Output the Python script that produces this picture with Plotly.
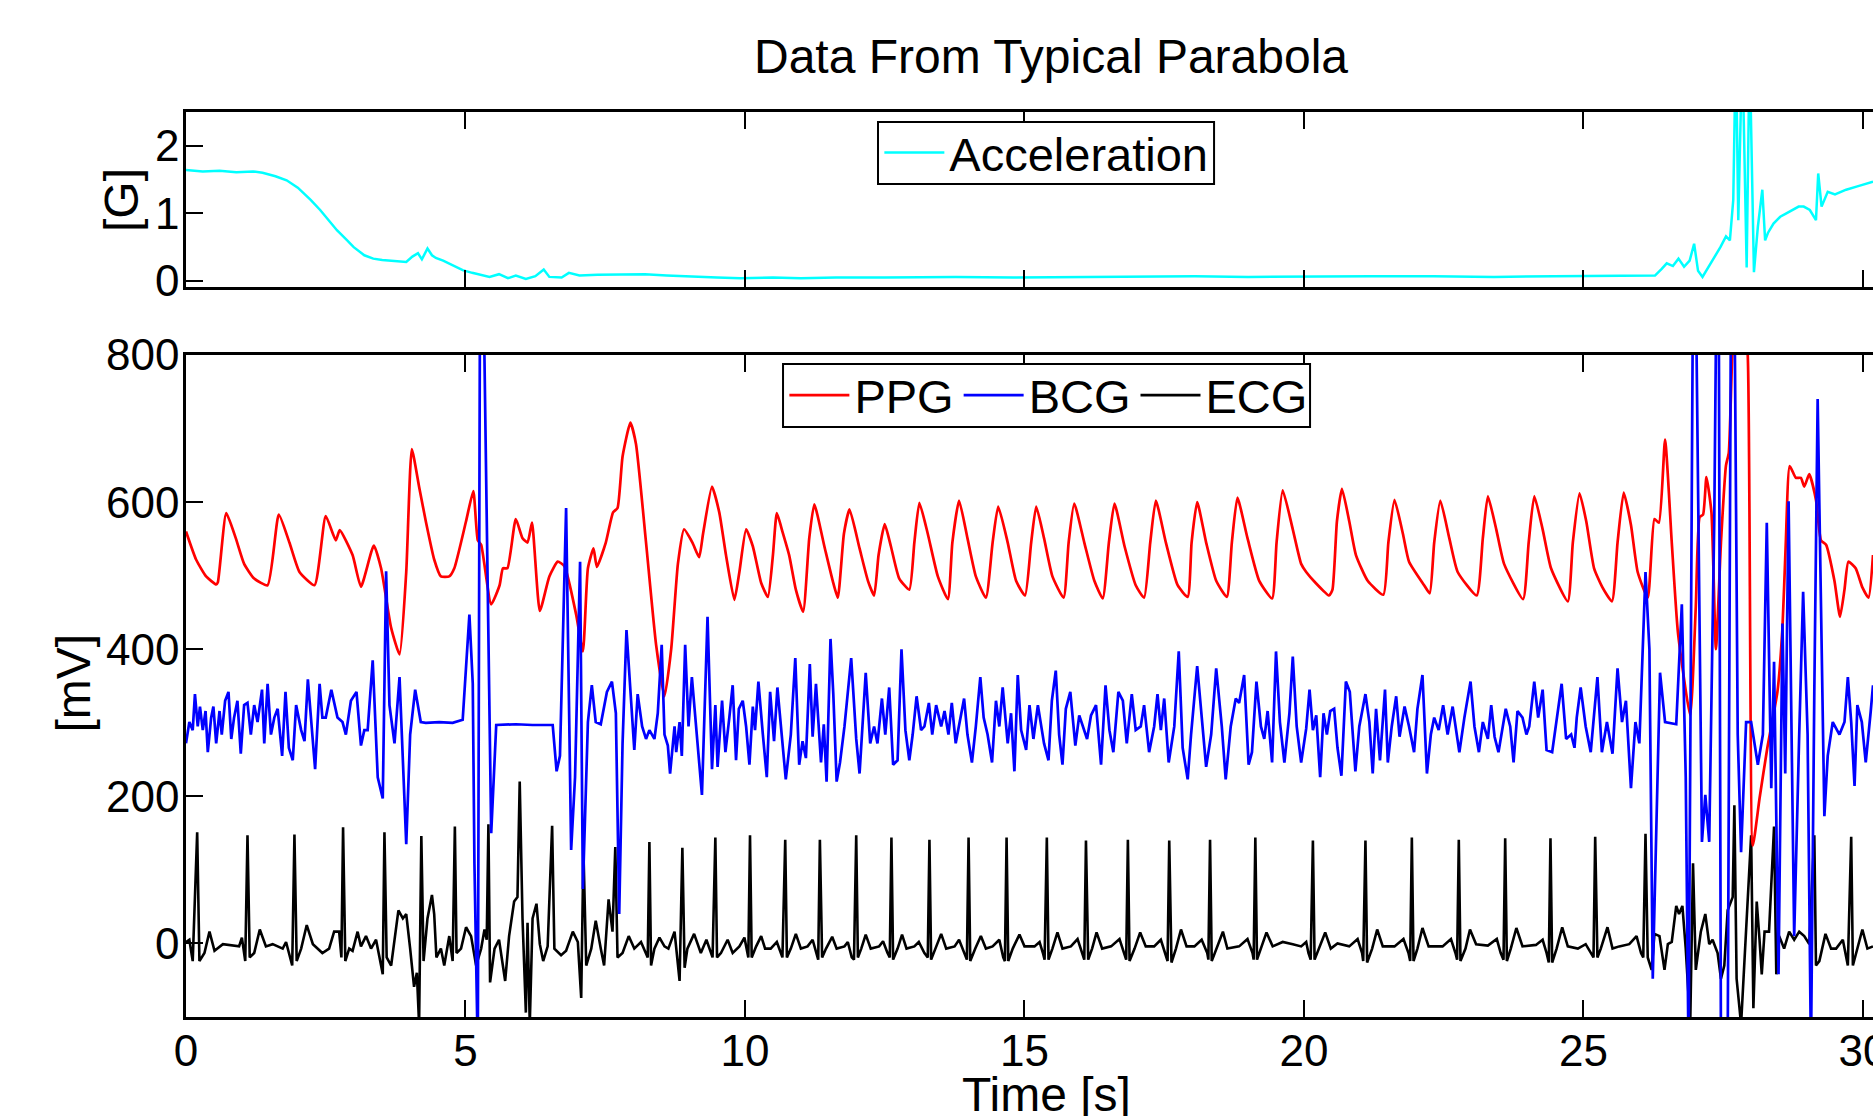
import plotly.graph_objects as go

# ---------------- data ----------------
acc_t = [0.00, 0.30, 0.60, 0.90, 1.20, 1.37, 1.60, 1.80, 2.00, 2.23, 2.40, 2.55, 2.70, 2.87, 3.00, 3.19,
         3.35, 3.51, 3.70, 3.94, 4.05, 4.15, 4.22, 4.32, 4.40, 4.47, 4.60, 4.80, 4.95, 5.12, 5.30, 5.43,
         5.60, 5.76, 5.90, 6.08, 6.25, 6.40, 6.50, 6.72, 6.85, 7.04, 7.36, 7.80, 8.21, 8.60, 9.07, 9.50,
         9.92, 10.5, 11.0, 11.63, 12.5, 13.77, 14.8, 15.9, 17.0, 18.05, 19.0, 20.18, 21.2, 22.32, 23.4,
         24.46, 25.4, 26.28, 26.40, 26.49, 26.60, 26.70, 26.80, 26.90, 26.98, 27.05, 27.13, 27.25, 27.34,
         27.45, 27.55, 27.62, 27.68, 27.71, 27.74, 27.77, 27.82, 27.86, 27.92, 27.96, 27.99, 28.05, 28.12,
         28.20, 28.25, 28.30, 28.40, 28.52, 28.63, 28.73, 28.85, 28.94, 29.05, 29.16, 29.20, 29.26, 29.37,
         29.50, 29.70, 29.90, 30.05, 30.18]
acc_v = [1.64, 1.62, 1.63, 1.61, 1.62, 1.60, 1.55, 1.49, 1.38, 1.20, 1.05, 0.90, 0.75, 0.61, 0.50, 0.38,
         0.33, 0.31, 0.30, 0.28, 0.36, 0.41, 0.32, 0.48, 0.38, 0.34, 0.30, 0.22, 0.16, 0.12, 0.08, 0.06,
         0.10, 0.04, 0.08, 0.03, 0.07, 0.17, 0.06, 0.05, 0.12, 0.08, 0.09, 0.09, 0.10, 0.08, 0.06, 0.05,
         0.04, 0.05, 0.04, 0.05, 0.05, 0.06, 0.05, 0.06, 0.06, 0.07, 0.06, 0.07, 0.07, 0.07, 0.06,
         0.07, 0.07, 0.08, 0.18, 0.26, 0.22, 0.33, 0.21, 0.30, 0.55, 0.15, 0.06, 0.22, 0.35,
         0.50, 0.66, 0.60, 1.20, 2.70, 2.70, 0.90, 2.70, 2.70, 0.20, 2.70, 2.70, 0.13, 0.80,
         1.35, 0.60, 0.71, 0.85, 0.95, 1.00, 1.05, 1.10, 1.10, 1.05, 0.90, 1.59, 1.10, 1.32,
         1.28, 1.35, 1.40, 1.44, 1.47]

ppg_t = [0.00, 0.18, 0.36, 0.54, 0.57, 0.72, 0.89, 1.04, 1.22, 1.46, 1.66, 1.85, 2.03, 2.30, 2.50, 2.68,
         2.75, 2.98, 3.13, 3.36, 3.49, 3.67, 3.82, 3.94, 4.04, 4.17, 4.29, 4.44, 4.56, 4.71, 4.80, 5.01,
         5.14, 5.22, 5.28, 5.46, 5.61, 5.67, 5.75, 5.90, 6.02, 6.11, 6.19, 6.33, 6.50, 6.65, 6.77, 6.98,
         7.10, 7.19, 7.29, 7.35, 7.51, 7.64, 7.72, 7.81, 7.95, 8.05, 8.23, 8.41, 8.56, 8.68, 8.80, 8.91,
         9.06, 9.18, 9.25, 9.41, 9.54, 9.66, 9.81, 9.90, 10.02, 10.14, 10.29, 10.41, 10.50, 10.57, 10.67,
         10.79, 10.91, 11.04, 11.15, 11.24, 11.42, 11.57, 11.66, 11.77, 11.87, 12.05, 12.20, 12.31, 12.39,
         12.50, 12.61, 12.76, 12.94, 13.03, 13.12, 13.27, 13.45, 13.63, 13.71, 13.83, 13.98, 14.13, 14.31,
         14.43, 14.53, 14.70, 14.85, 15.01, 15.12, 15.21, 15.35, 15.50, 15.70, 15.79, 15.89, 16.07, 16.25,
         16.40, 16.51, 16.61, 16.79, 16.99, 17.14, 17.25, 17.35, 17.53, 17.74, 17.92, 17.99, 18.09, 18.25,
         18.43, 18.62, 18.71, 18.81, 18.99, 19.20, 19.43, 19.51, 19.62, 19.80, 19.95, 20.04, 20.21, 20.45,
         20.51, 20.59, 20.68, 20.81, 20.93, 21.14, 21.42, 21.51, 21.62, 21.77, 21.88, 22.15, 22.25, 22.33,
         22.44, 22.60, 22.75, 23.09, 23.20, 23.29, 23.44, 23.58, 23.92, 24.02, 24.12, 24.27, 24.42, 24.72,
         24.81, 24.93, 25.05, 25.19, 25.34, 25.51, 25.61, 25.72, 25.85, 25.97, 26.15, 26.27, 26.35, 26.46,
         26.58, 26.69, 26.91, 27.01, 27.08, 27.14, 27.20, 27.29, 27.37, 27.46, 27.55, 27.60, 27.66, 27.79,
         27.94, 28.03, 28.15, 28.29, 28.47, 28.56, 28.62, 28.69, 28.80, 28.89, 28.95, 29.04, 29.16, 29.25,
         29.34, 29.49, 29.59, 29.67, 29.74, 29.87, 29.99, 30.10, 30.18]
ppg_v = [560, 522, 499, 488, 491, 585, 551, 516, 496, 487, 583, 545, 505, 487, 581, 548,
         562, 528, 485, 541, 510, 429, 393, 505, 672, 621, 574, 522, 499, 499, 510, 574,
         615, 548, 542, 461, 487, 510, 510, 577, 551, 545, 572, 452, 499, 519, 513, 447,
         397, 510, 537, 512, 545, 586, 592, 662, 708, 679, 545, 406, 336, 400, 516, 563,
         545, 525, 557, 621, 586, 528, 467, 505, 563, 540, 490, 471, 528, 585, 560,
         528, 481, 451, 551, 597, 540, 493, 470, 557, 590, 537, 493, 473, 528,
         570, 540, 496, 481, 545, 599, 557, 499, 468, 545, 602, 551, 499, 470,
         545, 594, 545, 493, 473, 545, 594, 551, 499, 470, 545, 598, 545, 493,
         469, 545, 598, 540, 487, 470, 545, 602, 545, 487, 471, 545, 600, 545,
         493, 471, 545, 606, 551, 493, 469, 545, 616, 563, 516, 505, 490, 473,
         481, 574, 618, 574, 528, 493, 474, 545, 603, 557, 519, 487, 476, 545,
         602, 551, 505, 473, 551, 608, 563, 516, 468, 545, 608, 563, 510, 465,
         545, 612, 574, 510, 484, 465, 545, 613, 569, 505, 470, 577, 572, 685,
         545, 423, 310, 458, 580, 583, 634, 586, 400, 545, 650, 667, 795, 950,
         798, 133, 197, 266, 342, 429, 545, 649, 633, 633, 621, 638, 603, 548,
         542, 493, 444, 481, 519, 510, 484, 470, 528]

bcg_t = [0.00, 0.06, 0.12, 0.16, 0.21, 0.25, 0.30, 0.35, 0.39, 0.45, 0.49, 0.54, 0.60, 0.64, 0.70, 0.76,
         0.81, 0.86, 0.92, 0.98, 1.04, 1.10, 1.16, 1.22, 1.28, 1.36, 1.40, 1.46, 1.52, 1.58, 1.64, 1.72,
         1.78, 1.84, 1.91, 1.97, 2.06, 2.12, 2.18, 2.24, 2.31, 2.39, 2.44, 2.50, 2.60, 2.71, 2.80, 2.86,
         2.95, 3.05, 3.13, 3.19, 3.25, 3.34, 3.43, 3.52, 3.58, 3.64, 3.73, 3.82, 3.94, 4.01, 4.10, 4.20,
         4.29, 4.53, 4.77, 4.95, 5.01, 5.07, 5.13, 5.16, 5.22, 5.26, 5.32, 5.46, 5.55, 5.90, 6.20, 6.56,
         6.63, 6.69, 6.80, 6.89, 6.96, 7.05, 7.10, 7.19, 7.26, 7.33, 7.42, 7.53, 7.62, 7.69, 7.75, 7.81,
         7.88, 7.96, 8.02, 8.08, 8.16, 8.23, 8.29, 8.38, 8.44, 8.51, 8.56, 8.62, 8.66, 8.74, 8.77, 8.83,
         8.87, 8.93, 8.99, 9.05, 9.12, 9.23, 9.33, 9.41, 9.47, 9.51, 9.59, 9.65, 9.72, 9.78, 9.84, 9.89,
         9.96, 10.02, 10.08, 10.14, 10.18, 10.24, 10.32, 10.39, 10.45, 10.52, 10.58, 10.64, 10.73, 10.82,
         10.90, 10.97, 11.03, 11.09, 11.16, 11.21, 11.27, 11.36, 11.41, 11.46, 11.53, 11.58, 11.64, 11.70,
         11.78, 11.90, 11.99, 12.05, 12.16, 12.24, 12.31, 12.37, 12.45, 12.51, 12.58, 12.65, 12.73, 12.80,
         12.87, 12.94, 13.00, 13.07, 13.15, 13.21, 13.29, 13.35, 13.42, 13.51, 13.57, 13.64, 13.70, 13.77,
         13.83, 13.92, 13.98, 14.06, 14.13, 14.21, 14.27, 14.34, 14.42, 14.49, 14.55, 14.61, 14.70, 14.76,
         14.82, 14.88, 14.94, 15.03, 15.09, 15.16, 15.24, 15.30, 15.35, 15.43, 15.49, 15.56, 15.62, 15.68,
         15.74, 15.82, 15.91, 15.98, 16.04, 16.12, 16.19, 16.28, 16.37, 16.45, 16.52, 16.59, 16.68, 16.76,
         16.83, 16.92, 16.99, 17.08, 17.14, 17.23, 17.32, 17.38, 17.44, 17.50, 17.58, 17.68, 17.76, 17.83,
         17.92, 17.98, 18.09, 18.18, 18.25, 18.34, 18.43, 18.53, 18.60, 18.69, 18.78, 18.84, 18.93, 19.01,
         19.07, 19.15, 19.23, 19.29, 19.35, 19.43, 19.50, 19.57, 19.65, 19.74, 19.80, 19.87, 19.95, 20.04,
         20.10, 20.16, 20.22, 20.29, 20.35, 20.41, 20.47, 20.54, 20.60, 20.67, 20.75, 20.82, 20.92, 20.99,
         21.10, 21.17, 21.23, 21.29, 21.36, 21.45, 21.50, 21.57, 21.65, 21.71, 21.80, 21.88, 21.97, 22.03,
         22.12, 22.20, 22.27, 22.33, 22.41, 22.49, 22.57, 22.66, 22.78, 22.87, 22.98, 23.05, 23.13, 23.20,
         23.29, 23.35, 23.41, 23.48, 23.55, 23.61, 23.69, 23.75, 23.82, 23.91, 23.98, 24.03, 24.12, 24.19,
         24.27, 24.34, 24.44, 24.51, 24.61, 24.69, 24.78, 24.84, 24.88, 24.95, 25.04, 25.13, 25.25, 25.33,
         25.42, 25.52, 25.61, 25.69, 25.76, 25.85, 25.93, 26.00, 26.11, 26.18, 26.24, 26.37, 26.46, 26.66,
         26.76, 26.83, 26.88, 26.96, 27.01, 27.12, 27.18, 27.25, 27.34, 27.38, 27.42, 27.46, 27.58, 27.64,
         27.70, 27.76, 27.82, 27.91, 28.00, 28.12, 28.21, 28.28, 28.36, 28.41, 28.49, 28.56, 28.61, 28.67,
         28.77, 28.86, 28.93, 29.01, 29.07, 29.13, 29.19, 29.25, 29.31, 29.37, 29.46, 29.58, 29.67, 29.73,
         29.79, 29.85, 29.90, 29.98, 30.05, 30.14, 30.18]
bcg_v = [272, 301, 290, 339, 295, 322, 290, 316, 260, 307, 322, 272, 316, 284, 330, 342,
         278, 307, 330, 258, 324, 327, 284, 324, 301, 345, 272, 353, 284, 307, 319, 255,
         342, 266, 249, 324, 290, 275, 359, 301, 237, 353, 307, 307, 345, 307, 301, 284,
         330, 342, 269, 290, 290, 385, 226, 197, 506, 324, 272, 362, 135, 284, 345, 301,
         300, 301, 300, 304, 377, 447, 353, 109, -150, 900, 900, 150, 297, 298, 297, 297,
         234, 255, 592, 127, 226, 519, 74, 301, 351, 301, 298, 342, 356, 313, 40, 272,
         426, 330, 263, 339, 295, 278, 290, 278, 313, 406, 284, 269, 231, 295, 260, 301,
         255, 406, 295, 362, 301, 202, 444, 237, 324, 240, 330, 260, 307, 351, 249, 319,
         330, 295, 243, 322, 290, 356, 284, 226, 342, 275, 348, 295, 223, 284,
         388, 243, 275, 252, 380, 281, 353, 246, 298, 220, 414, 339, 220, 246,
         295, 388, 278, 231, 368, 272, 295, 272, 333, 284, 348, 243, 249, 400,
         290, 249, 284, 336, 290, 295, 327, 284, 324, 295, 316, 284, 327, 272,
         295, 333, 284, 246, 295, 362, 307, 284, 246, 330, 295, 348, 272, 313,
         234, 365, 290, 263, 324, 278, 324, 295, 272, 249, 330, 371, 284, 243,
         319, 342, 269, 310, 295, 278, 310, 324, 243, 351, 290, 260, 342, 330,
         272, 339, 290, 295, 324, 260, 295, 339, 290, 333, 246, 295, 397, 266,
         223, 284, 377, 295, 240, 284, 374, 295, 223, 295, 333, 327, 365, 243,
         260, 356, 295, 278, 316, 246, 397, 301, 246, 313, 390, 295, 246, 292,
         345, 290, 310, 226, 313, 284, 316, 319, 266, 228, 356, 342, 234, 295,
         339, 301, 231, 319, 249, 345, 246, 295, 336, 281, 322, 295, 260, 319,
         365, 231, 284, 307, 290, 324, 284, 322, 260, 307, 356, 295, 260, 301,
         278, 324, 281, 260, 295, 319, 295, 246, 316, 307, 284, 295, 356, 307,
         345, 263, 260, 301, 353, 278, 284, 266, 307, 348, 295, 260, 362, 260,
         301, 258, 374, 301, 330, 211, 301, 272, 505, 400, -48, 368, 301, 298,
         461, 226, -150, 900, 900, 138, 202, 138, 574, 900, 900, -150, -150, 900,
         900, 284, 124, 301, 301, 243, 284, 572, 211, 383, -42, 435, 231, 601,
         10, 284, 478, 284, -150, 342, 740, 458, 173, 255, 301, 284, 301, 362,
         301, 214, 324, 301, 246, 316, 351]

ecg_t = [0.00, 0.06, 0.12, 0.20, 0.24, 0.33, 0.42, 0.51, 0.66, 0.95, 1.00, 1.06, 1.10, 1.14, 1.22, 1.32,
         1.43, 1.55, 1.73, 1.79, 1.90, 1.94, 1.98, 2.06, 2.16, 2.27, 2.44, 2.56, 2.65, 2.74, 2.78, 2.81,
         2.85, 2.92, 2.98, 3.07, 3.13, 3.22, 3.31, 3.40, 3.49, 3.52, 3.55, 3.59, 3.67, 3.73, 3.80, 3.88,
         3.94, 4.01, 4.08, 4.13, 4.17, 4.21, 4.25, 4.32, 4.40, 4.44, 4.48, 4.56, 4.62, 4.71, 4.77, 4.81,
         4.84, 4.92, 5.01, 5.10, 5.19, 5.28, 5.34, 5.38, 5.41, 5.44, 5.52, 5.60, 5.71, 5.78, 5.87, 5.93,
         5.97, 6.02, 6.08, 6.11, 6.15, 6.20, 6.27, 6.33, 6.39, 6.47, 6.55, 6.59, 6.71, 6.80, 6.92, 7.01,
         7.07, 7.11, 7.16, 7.25, 7.33, 7.42, 7.48, 7.56, 7.63, 7.68, 7.72, 7.81, 7.92, 8.02, 8.14, 8.26,
         8.29, 8.32, 8.38, 8.47, 8.56, 8.63, 8.74, 8.83, 8.88, 8.92, 8.97, 9.09, 9.21, 9.31, 9.42, 9.47,
         9.50, 9.57, 9.69, 9.78, 9.90, 9.99, 10.06, 10.09, 10.12, 10.20, 10.29, 10.36, 10.46, 10.57, 10.61,
         10.67, 10.72, 10.75, 10.82, 10.91, 11.00, 11.12, 11.21, 11.27, 11.31, 11.34, 11.38, 11.45, 11.56,
         11.64, 11.78, 11.84, 11.91, 11.95, 11.99, 12.02, 12.08, 12.16, 12.25, 12.40, 12.47, 12.55, 12.59,
         12.62, 12.65, 12.73, 12.81, 12.89, 13.03, 13.11, 13.21, 13.27, 13.30, 13.33, 13.41, 13.51, 13.60,
         13.75, 13.83, 13.92, 13.97, 14.00, 14.03, 14.12, 14.22, 14.31, 14.43, 14.55, 14.62, 14.65, 14.68,
         14.71, 14.79, 14.91, 15.00, 15.18, 15.27, 15.33, 15.36, 15.40, 15.43, 15.50, 15.59, 15.68, 15.83,
         15.95, 16.04, 16.07, 16.10, 16.14, 16.21, 16.29, 16.39, 16.55, 16.70, 16.79, 16.82, 16.85, 16.88,
         16.97, 17.07, 17.17, 17.32, 17.44, 17.52, 17.56, 17.59, 17.63, 17.71, 17.80, 17.90, 18.04, 18.17,
         18.27, 18.29, 18.32, 18.35, 18.44, 18.55, 18.63, 18.84, 18.99, 19.08, 19.10, 19.13, 19.16, 19.23,
         19.33, 19.44, 19.62, 19.80, 19.95, 20.04, 20.08, 20.12, 20.16, 20.19, 20.27, 20.38, 20.48, 20.60,
         20.81, 20.96, 21.04, 21.06, 21.10, 21.13, 21.22, 21.31, 21.41, 21.62, 21.78, 21.87, 21.90, 21.93,
         21.96, 22.03, 22.12, 22.23, 22.48, 22.63, 22.71, 22.74, 22.77, 22.80, 22.89, 22.97, 23.08, 23.29,
         23.45, 23.52, 23.57, 23.60, 23.63, 23.70, 23.80, 23.91, 24.15, 24.27, 24.34, 24.38, 24.41, 24.44,
         24.52, 24.62, 24.72, 24.90, 25.04, 25.13, 25.18, 25.21, 25.25, 25.31, 25.43, 25.52, 25.64, 25.82,
         25.95, 26.03, 26.07, 26.11, 26.15, 26.22, 26.27, 26.36, 26.45, 26.51, 26.58, 26.66, 26.71, 26.77,
         26.83, 26.91, 26.96, 27.01, 27.10, 27.18, 27.25, 27.31, 27.40, 27.46, 27.52, 27.58, 27.67, 27.70,
         27.74, 27.82, 27.90, 27.95, 28.00, 28.04, 28.10, 28.15, 28.19, 28.24, 28.32, 28.41, 28.45, 28.50,
         28.59, 28.68, 28.77, 28.86, 28.95, 29.04, 29.13, 29.16, 29.22, 29.33, 29.43, 29.52, 29.64, 29.73,
         29.79, 29.82, 29.90, 29.99, 30.08, 30.18]
ecg_v = [2, 5, -24, 151, -24, -13, 16, -10, -1, -4, 8, -24, 147, -19, -13, 19,
         -4, -1, -7, 2, -30, 148, -24, -7, 25, -1, -13, -7, 16, 16, -19, 158,
         -24, -7, -10, 16, -4, 10, -7, 5, -30, -42, 151, -19, -30, 5, 45, 34,
         40, -7, -59, -40, -110, 146, -24, 34, 66, 40, -19, -7, -30, 10, -24, 159,
         -13, -7, 22, 10, -30, -7, 19, 5, 162, -53, -7, 5, -51, 10, 57, 63,
         220, 34, -94, 28, -110, 34, 54, -1, -24, -4, 160, -7, -16, -10, 16, 2,
         -74, 127, -30, -7, 31, -7, -30, 60, 16, 131, -19, -13, 10, -7, 2, -19,
         138, -30, -7, 8, -4, -7, 16, -51, 130, -33, -7, 13, -13, 5, -19, 144,
         -19, -13, 5, -13, -4, 8, -19, 147, -19, -4, 10, -7, -7, 2, -7,
         -19, 141, -19, -7, 13, -7, -4, 5, -13, -22, 141, -19, -7, 9,
         -7, -4, 2, -19, -22, 147, -19, -7, 12, -7, -4, 3, -13, -19,
         144, -22, -7, 12, -7, -4, 2, -13, -19, 141, -22, -7, 13, -7,
         -4, 5, -13, -22, 144, -24, -7, 10, -7, -4, 5, -19, -24, 144,
         -24, -7, 12, -4, -4, 2, -13, -22, 144, -22, -7, 15, -7, -4,
         6, -13, -22, 140, -22, -7, 15, -7, -4, 6, -13, -22, 141, -24,
         -7, 15, -4, -4, 5, -13, -24, 140, -26, -7, 19, -4, -4, 5,
         -13, -22, 141, -24, -7, 16, -7, -4, 6, -13, -22, 144, -22, -7,
         15, -4, 2, -1, -4, 2, -13, -22, 140, -22, -7, 15, -7, 0,
         -4, 6, -13, -24, 140, -26, -7, 19, -4, -4, 6, -13, -24, 144,
         -24, -7, 21, -4, -4, 6, -13, -22, 141, -24, -7, 19, -1, -3,
         6, -13, -22, 143, -24, -7, 21, -4, -2, 5, -13, -26, 143, -26,
         -7, 22, -4, -7, -1, -13, -19, 145, -19, -7, 22, -7, -4, -1,
         10, -13, -19, 149, -19, -36, 13, 10, -36, -1, 2, 51, 40, 51,
         -7, -110, 109, -36, 16, 40, -1, 5, -13, -48, -30, 45, 63, 188,
         -48, -110, 5, 69, 147, -88, 57, 5, -42, 16, 16, 159, -42, 10,
         -7, 16, 5, 16, 10, -1, 147, -30, -24, 13, -7, -7, 5, -30,
         145, -30, -7, 19, -7, -4]

x_ticks = [0, 5, 10, 15, 20, 25, 30]
acc_ticks = [0, 1, 2]
mv_ticks = [0, 200, 400, 600, 800]

FONT = "Liberation Sans, Arial, Helvetica, sans-serif"

fig = go.Figure()
fig.add_trace(go.Scatter(x=acc_t, y=acc_v, mode="lines", name="Acceleration",
                         line=dict(color="#00FFFF", width=2.5), xaxis="x", yaxis="y",
                         legend="legend"))
fig.add_trace(go.Scatter(x=ecg_t, y=ecg_v, mode="lines", name="ECG",
                         line=dict(color="#000000", width=2.6), xaxis="x2", yaxis="y2",
                         legend="legend2", legendrank=3))
fig.add_trace(go.Scatter(x=ppg_t, y=ppg_v, mode="lines", name="PPG",
                         line=dict(color="#FF0000", width=2.7, shape="spline", smoothing=0.5),
                         xaxis="x2", yaxis="y2", legend="legend2", legendrank=1))
fig.add_trace(go.Scatter(x=bcg_t, y=bcg_v, mode="lines", name="BCG",
                         line=dict(color="#0000FF", width=2.7), xaxis="x2", yaxis="y2",
                         legend="legend2", legendrank=2))

axis_common = dict(showline=True, linecolor="black", linewidth=2.5, ticks="inside",
                   ticklen=17, tickwidth=2, tickcolor="black", showgrid=False, zeroline=False,
                   automargin=False,
                   tickfont=dict(family=FONT, size=44, color="black"))

# legend frames (drawn as white boxes above the traces)
legend_boxes = [
    dict(type="rect", xref="paper", yref="paper", x0=0.4102, x1=0.6094, y0=0.9204, y1=0.989,
         fillcolor="white", line=dict(color="black", width=2), layer="above"),
    dict(type="rect", xref="paper", yref="paper", x0=0.3539, x1=0.6663, y0=0.6519, y1=0.7215,
         fillcolor="white", line=dict(color="black", width=2), layer="above"),
]

fig.update_layout(
    width=1873, height=1116,
    margin=dict(l=186, r=0, t=112, b=99, autoexpand=False),
    paper_bgcolor="white", plot_bgcolor="white",
    showlegend=True,
    xaxis=dict(axis_common, domain=[0, 1], range=[0, 30.18], tickvals=x_ticks,
               showticklabels=False, mirror="allticks", anchor="y"),
    yaxis=dict(axis_common, domain=[0.8066, 1], range=[-0.09, 2.5], tickvals=acc_ticks,
               mirror=False, anchor="x", ticklabelstandoff=-5),
    xaxis2=dict(axis_common, domain=[0, 1], range=[0, 30.18], tickvals=x_ticks,
                mirror="allticks", anchor="y2", ticklabelstandoff=-7,
                ticklabeloverflow="allow"),
    yaxis2=dict(axis_common, domain=[0, 0.7315], range=[-100, 800], tickvals=mv_ticks,
                mirror=False, anchor="x2", ticklabelstandoff=-5),
    shapes=legend_boxes,
    legend=dict(x=0.4110, y=0.9547, xanchor="left", yanchor="middle",
                bgcolor="rgba(0,0,0,0)", borderwidth=0,
                font=dict(family=FONT, size=47, color="black"), itemwidth=60),
    legend2=dict(x=0.3547, y=0.6867, xanchor="left", yanchor="middle", orientation="h",
                 bgcolor="rgba(0,0,0,0)", borderwidth=0,
                 font=dict(family=FONT, size=47, color="black"), itemwidth=60),
    annotations=[
        dict(text="Data From Typical Parabola", x=0.5128, y=1.0608, xref="paper", yref="paper",
             xanchor="center", yanchor="middle", showarrow=False,
             font=dict(family=FONT, size=48, color="black")),
        dict(text="[G]", x=-0.0379, y=0.9028, xref="paper", yref="paper", textangle=-90,
             xanchor="center", yanchor="middle", showarrow=False,
             font=dict(family=FONT, size=48, color="black")),
        dict(text="[mV]", x=-0.0667, y=0.369, xref="paper", yref="paper", textangle=-90,
             xanchor="center", yanchor="middle", showarrow=False,
             font=dict(family=FONT, size=48, color="black")),
        dict(text="Time [s]", x=0.5098, y=-0.086, xref="paper", yref="paper",
             xanchor="center", yanchor="middle", showarrow=False,
             font=dict(family=FONT, size=48, color="black")),
    ],
)

fig.write_html("out.html", config={"displayModeBar": False},
               post_script="document.body.style.margin='0';document.body.style.overflow='hidden';")
